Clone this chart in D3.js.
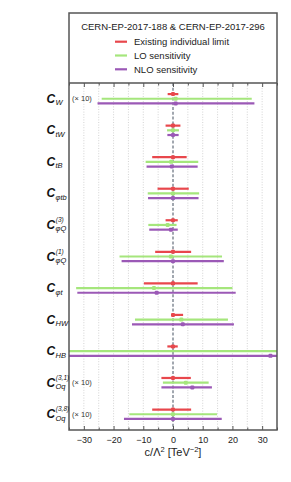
<!DOCTYPE html>
<html><head><meta charset="utf-8">
<script src="https://cdn.jsdelivr.net/npm/d3@7"></script>
<style>body{margin:0;background:#fff}svg{display:block;font-family:"Liberation Sans",Arial,sans-serif}</style>
</head><body><svg id="c" width="291" height="482"></svg>
<script>
// ---- data (displayed values; rows marked ×10 are scaled) ----
const subs = ["W","tW","tB","φtb","φQ","φQ","φt","HW","HB","Oq","Oq"];
const sups = ["","","","","(3)","(1)","","","","(3,1)","(3,8)"];
const scaledRows = ["(× 10)","","","","","","","","","(× 10)","(× 10)"];
// [central, low, high]
const existing = [[0,-1.8,1.8],[0,-2.5,2.5],[0,-7.0,4.6],[0,-5.2,5.3],[0,-2.5,1.6],[0,-6.0,6.1],[0,-9.8,8.3],[0,-0.4,3.4],[0,-1.9,1.6],[0,-3.9,6.0],[0,-7.0,6.1]];
const lo = [[0.9,-24.0,26.5],[0,-2.0,2.0],[-0.6,-9.2,8.5],[0,-8.5,8.8],[-1.8,-8.3,1.2],[-0.7,-18.0,16.5],[-6.4,-32.6,20.0],[2.8,-12.8,18.5],[45,-60,150],[4.3,-3.4,12.0],[0,-14.7,14.8]];
const nlo = [[0.9,-25.4,27.4],[0,-1.9,1.9],[-0.4,-8.9,8.3],[0,-8.4,8.6],[-0.7,-8.0,1.6],[0,-17.3,17.1],[-5.5,-32.2,21.1],[3.3,-13.8,20.5],[32.8,-60,150],[6.5,-3.9,13.1],[0,-16.5,16.4]];
const xTicks = [-30,-20,-10,0,10,20,30];
const minorTicks = [-35,-25,-15,-5,5,15,25,35];
const gridVals = [-30,-25,-20,-15,-10,-5,5,10,15,20,25,30];
const legendTitle = "CERN-EP-2017-188 & CERN-EP-2017-296";
const seriesNames = ["Existing individual limit","LO sensitivity","NLO sensitivity"];
const colors = ["#e8474c","#a5e67c","#9b59b6"];

const svg = d3.select("#c");
const L = 69, R = 277, T = 13, S = 83, B = 430;
const x = d3.scaleLinear().domain([-35,35]).range([L,R]);
const y = d3.scaleBand().domain(d3.range(subs.length)).range([S,B]).padding(0);
const rowC = i => y(i) + y.bandwidth()/2;
const offs = [-4.7,0,4.7];

// grid
svg.append("g").selectAll("line").data(gridVals).join("line")
  .attr("x1",d=>x(d)).attr("x2",d=>x(d)).attr("y1",S).attr("y2",B)
  .attr("stroke","#c8c8c8").attr("stroke-width",0.8).attr("stroke-dasharray","1,1.6");
svg.append("line").attr("x1",x(0)).attr("x2",x(0)).attr("y1",S).attr("y2",B)
  .attr("stroke","#55606e").attr("stroke-width",1.1).attr("stroke-dasharray","3,1.8");

// clip
svg.append("clipPath").attr("id","pc").append("rect").attr("x",L).attr("y",S).attr("width",R-L).attr("height",B-S);
const plot = svg.append("g").attr("clip-path","url(#pc)");
[existing, lo, nlo].forEach((ser,k)=>{
  const g = plot.append("g");
  g.selectAll("line").data(ser).join("line")
    .attr("x1",d=>x(d[1])).attr("x2",d=>x(d[2]))
    .attr("y1",(d,i)=>rowC(i)+offs[k]).attr("y2",(d,i)=>rowC(i)+offs[k])
    .attr("stroke",colors[k]).attr("stroke-width",2.2);
  g.selectAll("rect").data(ser).join("rect")
    .attr("x",d=>x(d[0])-2).attr("y",(d,i)=>rowC(i)+offs[k]-2)
    .attr("width",4).attr("height",4).attr("rx",1.2)
    .attr("fill",colors[k]);
});

// frame
svg.append("rect").attr("x",L).attr("y",T).attr("width",R-L).attr("height",B-T)
  .attr("fill","none").attr("stroke","#555").attr("stroke-width",1.5);
svg.append("line").attr("x1",L).attr("x2",R).attr("y1",S).attr("y2",S).attr("stroke","#555").attr("stroke-width",1.5);

// axes (ticks inward top and bottom)
const ax = svg.append("g").attr("transform",`translate(0,${B})`)
  .call(d3.axisBottom(x).tickValues(xTicks).tickSizeInner(-4).tickSizeOuter(0).tickPadding(7)
    .tickFormat(d=>d<0?"\u2212"+Math.abs(d):d));
ax.select(".domain").remove();
ax.selectAll("line").attr("stroke","#555");
ax.selectAll("text").attr("font-size",9).attr("fill","#222").attr("font-family","Liberation Sans, Arial, sans-serif");
const axm = svg.append("g").attr("transform",`translate(0,${B})`)
  .call(d3.axisBottom(x).tickValues(minorTicks).tickSizeInner(-2.5).tickSizeOuter(0).tickFormat(""));
axm.select(".domain").remove(); axm.selectAll("line").attr("stroke","#555");
const at = svg.append("g").attr("transform",`translate(0,${S})`)
  .call(d3.axisTop(x).tickValues(xTicks).tickSizeInner(-4).tickSizeOuter(0).tickFormat(""));
at.select(".domain").remove(); at.selectAll("line").attr("stroke","#555");
const atm = svg.append("g").attr("transform",`translate(0,${S})`)
  .call(d3.axisTop(x).tickValues(minorTicks).tickSizeInner(-2.5).tickSizeOuter(0).tickFormat(""));
atm.select(".domain").remove(); atm.selectAll("line").attr("stroke","#555");

// x title
const xt = svg.append("text").attr("x",x(0)).attr("y",456).attr("text-anchor","middle")
  .attr("font-size",11).attr("fill","#222");
xt.append("tspan").text("c/Λ");
xt.append("tspan").attr("dy",-4).attr("font-size",7.5).text("2");
xt.append("tspan").attr("dy",4).text(" [TeV");
xt.append("tspan").attr("dy",-4).attr("font-size",7.5).text("\u22122");
xt.append("tspan").attr("dy",4).text("]");

// legend
svg.append("text").attr("x",x(0)).attr("y",30).attr("text-anchor","middle")
  .attr("font-size",9.5).attr("fill","#222").text(legendTitle);
seriesNames.forEach((n,k)=>{
  const yy = 41.7 + k*13.8;
  svg.append("line").attr("x1",115).attr("x2",127).attr("y1",yy).attr("y2",yy)
    .attr("stroke",colors[k]).attr("stroke-width",2.2);
  svg.append("text").attr("x",134).attr("y",yy+3.4).attr("font-size",9.5).attr("fill","#222").text(n);
});

// row labels
subs.forEach((s,i)=>{
  const cy = rowC(i) + 4;
  const g = svg.append("g");
  g.append("text").attr("x",46.5).attr("y",cy).attr("font-size",12).attr("font-weight","bold")
    .attr("font-style","italic").attr("fill","#111").text("C");
  g.append("text").attr("x",55.5).attr("y",cy+2.5).attr("font-size",7.5)
    .attr("font-style","italic").attr("fill","#111").text(s);
  if (sups[i]) g.append("text").attr("x",55.8).attr("y",cy-7).attr("font-size",6.5)
    .attr("font-style","italic").attr("fill","#111").text(sups[i]);
  if (scaledRows[i]) svg.append("text").attr("x",72).attr("y",rowC(i)+2.5).attr("font-size",7.5)
    .attr("fill","#333").text(scaledRows[i]);
});
</script></body></html>
